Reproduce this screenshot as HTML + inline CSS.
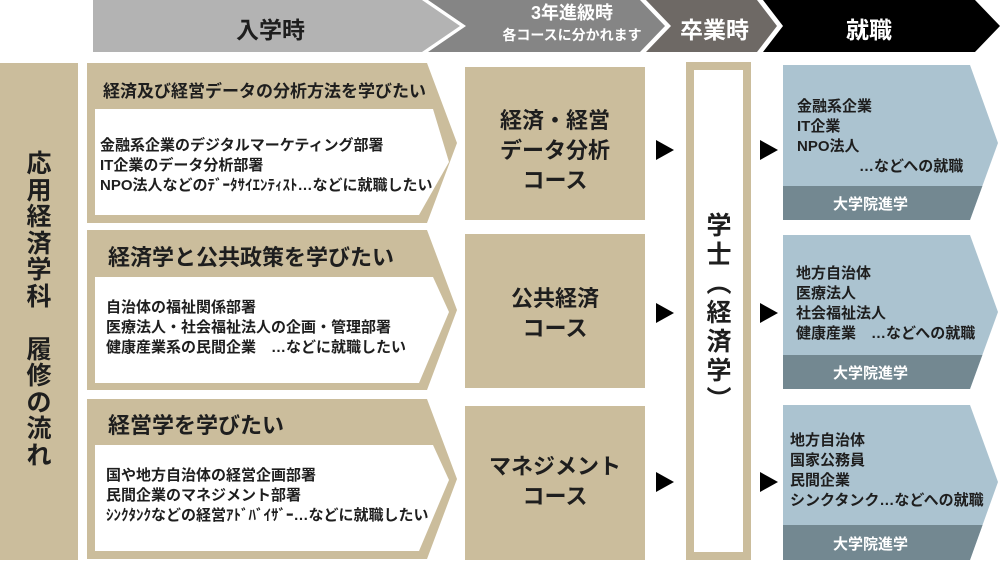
<!DOCTYPE html>
<html><head><meta charset="utf-8"><style>
body{margin:0;width:1000px;height:565px;background:#fff;overflow:hidden;font-family:"Liberation Sans","Noto Sans CJK JP",sans-serif;}
svg{position:absolute;left:0;top:0}
.t{position:absolute;font-weight:bold;color:#1e1e1e;white-space:nowrap;}
</style></head><body>
<svg width="1000" height="565">
<polygon points="93,0 422,0 460,26 422,52 93,52" fill="#b3b3b3"/>
<polygon points="428,0 640,0 665,26 640,52 428,52 466,26" fill="#858585"/>
<polygon points="646,0 757,0 777,26 757,52 646,52 671,26" fill="#6e6965"/>
<polygon points="763,0 975,0 1000,26 975,52 763,52 783,26" fill="#000"/>
<rect x="0" y="63" width="78" height="497" fill="#cbbd9c"/>
<g fill="#cbbd9c">
<polygon points="87,63 427,63 457,143 427,223 87,223"/>
<polygon points="87,230 427,230 457,310 427,390 87,390"/>
<polygon points="87,399 427,399 457,479 427,559 87,559"/>
</g>
<g fill="#fff">
<polygon points="95,109 433,109 449,162 419,215 95,215"/>
<polygon points="95,277 433,277 449,312 419,383 95,383"/>
<polygon points="95,445 433,445 449,480 419,551 95,551"/>
</g>
<g fill="#cbbd9c">
<rect x="465" y="67" width="180" height="153"/>
<rect x="465" y="234" width="180" height="154"/>
<rect x="465" y="406" width="180" height="154"/>
</g>
<rect x="690" y="66" width="57" height="490" fill="#fff" stroke="#cbbd9c" stroke-width="8"/>
<g fill="#000">
<polygon points="656,140 674,150 656,160"/><polygon points="760,140 778,150 760,160"/>
<polygon points="656,303 674,313 656,323"/><polygon points="760,303 778,313 760,323"/>
<polygon points="656,472 674,482 656,492"/><polygon points="760,472 778,482 760,492"/>
</g>
<defs>
<clipPath id="c1"><polygon points="783,65 970,65 998,143 970,220 783,220"/></clipPath>
<clipPath id="c2"><polygon points="783,235 970,235 998,312 970,389 783,389"/></clipPath>
<clipPath id="c3"><polygon points="783,405 970,405 998,482 970,560 783,560"/></clipPath>
</defs>
<g clip-path="url(#c1)"><rect x="783" y="65" width="217" height="155" fill="#abc3d0"/><rect x="783" y="186" width="217" height="34" fill="#738891"/></g>
<g clip-path="url(#c2)"><rect x="783" y="235" width="217" height="154" fill="#abc3d0"/><rect x="783" y="355" width="217" height="34" fill="#738891"/></g>
<g clip-path="url(#c3)"><rect x="783" y="405" width="217" height="155" fill="#abc3d0"/><rect x="783" y="525" width="217" height="35" fill="#738891"/></g>
</svg>

<div class="t" style="left:236px;top:11px;font-size:23px;">入学時</div>
<div class="t" style="left:472px;top:3px;width:200px;text-align:center;font-size:18px;color:#fff;line-height:21px;">3年進級時<br><span style="font-size:14px">各コースに分かれます</span></div>
<div class="t" style="left:680px;top:11px;font-size:23px;color:#fff;">卒業時</div>
<div class="t" style="left:846px;top:11px;font-size:23px;color:#fff;">就職</div>

<div class="t" style="left:24px;top:151px;width:30px;font-size:25px;line-height:26.5px;text-align:center;">応<br>用<br>経<br>済<br>学<br>科<br>&nbsp;<br>履<br>修<br>の<br>流<br>れ</div>

<div class="t" style="left:103px;top:77px;font-size:17px;">経済及び経営データの分析方法を学びたい</div>
<div class="t" style="left:100px;top:136px;font-size:15px;line-height:20px;">金融系企業のデジタルマーケティング部署<br>IT企業のデータ分析部署<br>NPO法人などのﾃﾞｰﾀｻｲｴﾝﾃｨｽﾄ…などに就職したい</div>
<div class="t" style="left:108px;top:240px;font-size:22px;">経済学と公共政策を学びたい</div>
<div class="t" style="left:106px;top:298px;font-size:15px;line-height:20px;">自治体の福祉関係部署<br>医療法人・社会福祉法人の企画・管理部署<br>健康産業系の民間企業　…などに就職したい</div>
<div class="t" style="left:108px;top:408px;font-size:22px;">経営学を学びたい</div>
<div class="t" style="left:106px;top:466px;font-size:15px;line-height:20px;">国や地方自治体の経営企画部署<br>民間企業のマネジメント部署<br>ｼﾝｸﾀﾝｸなどの経営ｱﾄﾞﾊﾞｲｻﾞｰ…などに就職したい</div>

<div class="t" style="left:465px;top:106px;width:180px;text-align:center;font-size:22px;line-height:30px;">経済・経営<br>データ分析<br>コース</div>
<div class="t" style="left:465px;top:284px;width:180px;text-align:center;font-size:22px;line-height:30px;">公共経済<br>コース</div>
<div class="t" style="left:465px;top:452px;width:180px;text-align:center;font-size:22px;line-height:30px;">マネジメント<br>コース</div>

<div class="t" style="left:703px;top:212px;width:32px;font-size:25px;line-height:29px;text-align:center;">学<br>士<br>︵<br>経<br>済<br>学<br>︶</div>

<div class="t" style="left:797px;top:97px;font-size:15px;line-height:20px;">金融系企業<br>IT企業<br>NPO法人<br><span style="padding-left:62px">…などへの就職</span></div>
<div class="t" style="left:833px;top:193px;font-size:15px;color:#fff;">大学院進学</div>
<div class="t" style="left:796px;top:264px;font-size:15px;line-height:20px;">地方自治体<br>医療法人<br>社会福祉法人<br>健康産業　…などへの就職</div>
<div class="t" style="left:833px;top:362px;font-size:15px;color:#fff;">大学院進学</div>
<div class="t" style="left:790px;top:431px;font-size:15px;line-height:20px;">地方自治体<br>国家公務員<br>民間企業<br>シンクタンク…などへの就職</div>
<div class="t" style="left:833px;top:533px;font-size:15px;color:#fff;">大学院進学</div>
</body></html>
